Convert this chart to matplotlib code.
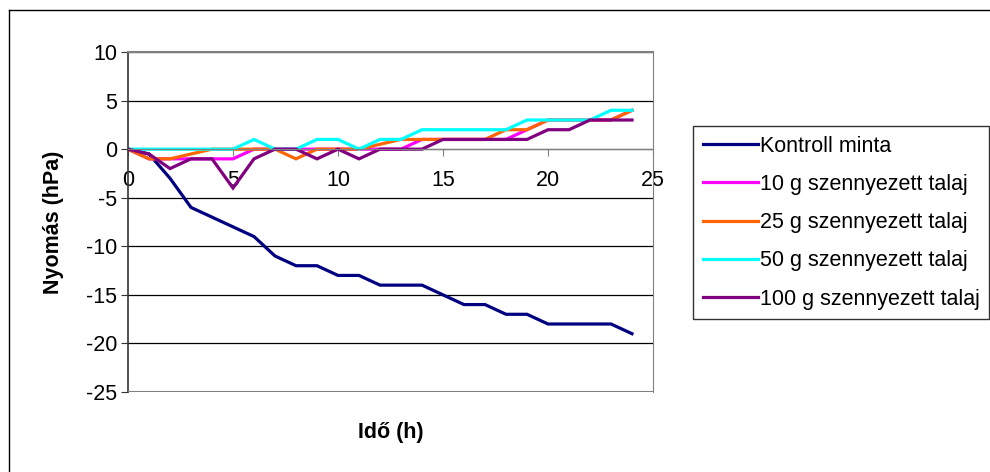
import matplotlib
matplotlib.use("Agg")
import matplotlib.pyplot as plt
from matplotlib.lines import Line2D

plt.rcParams['font.family'] = ['Liberation Sans', 'DejaVu Sans']
plt.rcParams['axes.unicode_minus'] = False

# idő (h) and pressure change per sample (hPa)
hours = list(range(25))
kontroll = [0, -0.5, -3, -6, -7, -8, -9, -11, -12, -12, -13, -13, -14, -14, -14,
            -15, -16, -16, -17, -17, -18, -18, -18, -18, -19]
g10 = [0, -1, -1, -1, -1, -1, 0, 0, 0, 0, 0, 0, 0, 0, 1,
       1, 1, 1, 1, 2, 3, 3, 3, 3, 4]
g25 = [0, -1, -1, -0.5, 0, 0, 0, 0, -1, 0, 0, 0, 0.5, 1, 1,
       1, 1, 1, 2, 2, 3, 3, 3, 3, 4]
g50 = [0, 0, 0, 0, 0, 0, 1, 0, 0, 1, 1, 0, 1, 1, 2,
       2, 2, 2, 2, 3, 3, 3, 3, 4, 4]
g100 = [0, -0.5, -2, -1, -1, -4, -1, 0, 0, -1, 0, -1, 0, 0, 0,
        1, 1, 1, 1, 1, 2, 2, 3, 3, 3]

series = [
    ("Kontroll minta", kontroll, "#000080"),
    ("10 g szennyezett talaj", g10, "#FF00FF"),
    ("25 g szennyezett talaj", g25, "#FF6600"),
    ("50 g szennyezett talaj", g50, "#00FFFF"),
    ("100 g szennyezett talaj", g100, "#800080"),
]

y_ticks = [-25, -20, -15, -10, -5, 0, 5, 10]
x_ticks = [0, 5, 10, 15, 20, 25]

fs = 15.5

fig = plt.figure(figsize=(9.9, 4.72), dpi=100)
fig.patch.set_facecolor("white")

# outer chart frame (only top and left edge visible)
fig.add_artist(Line2D([9 / 990, 9 / 990], [1 - 10 / 472, -0.1], color="black",
                      lw=1.0, transform=fig.transFigure))
fig.add_artist(Line2D([9 / 990, 1.1], [1 - 10 / 472, 1 - 10 / 472], color="black",
                      lw=1.0, transform=fig.transFigure))

ax = fig.add_axes([128 / 990, 1 - 392 / 472, 525 / 990, 340 / 472])

for label, vals, col in series:
    ax.plot(hours, vals, color=col, lw=2.3, label=label, solid_joinstyle="miter")

ax.set_xlim(0, 25)
ax.set_ylim(-25, 10)
ax.set_xticks(x_ticks)
ax.set_yticks(y_ticks)
ax.yaxis.grid(True, color="black", lw=0.9)
ax.axhline(-25, color="#808080", lw=1.5, zorder=3)

ax.spines["bottom"].set_position(("data", 0))
ax.spines["bottom"].set_color("#808080")
ax.spines["top"].set_color("#808080")
ax.spines["top"].set_linewidth(1.5)
ax.spines["right"].set_color("#808080")
ax.spines["left"].set_color("#333333")
ax.spines["left"].set_linewidth(1.2)

ax.tick_params(axis="x", direction="out", length=5, color="#808080",
               labelsize=fs, pad=10)
ax.tick_params(axis="y", direction="out", length=5, color="#333333",
               labelsize=fs, pad=3)

ax.set_ylabel("Nyomás (hPa)", fontsize=fs, fontweight="bold")
ax.yaxis.set_label_coords(-0.122, 0.5)
ax.text(0.5, -0.12, "Idő (h)", transform=ax.transAxes, ha="center", va="center",
        fontsize=fs, fontweight="bold")

leg = ax.legend(loc="upper left", bbox_to_anchor=(693 / 990, 1 - 126 / 472),
                bbox_transform=fig.transFigure, frameon=True, fancybox=False,
                fontsize=fs, handlelength=2.55, handletextpad=0.1,
                labelspacing=0.8, borderpad=0.45, borderaxespad=0)
leg.get_frame().set_edgecolor("black")
leg.get_frame().set_linewidth(1.0)

fig.savefig("out.png", dpi=100)
